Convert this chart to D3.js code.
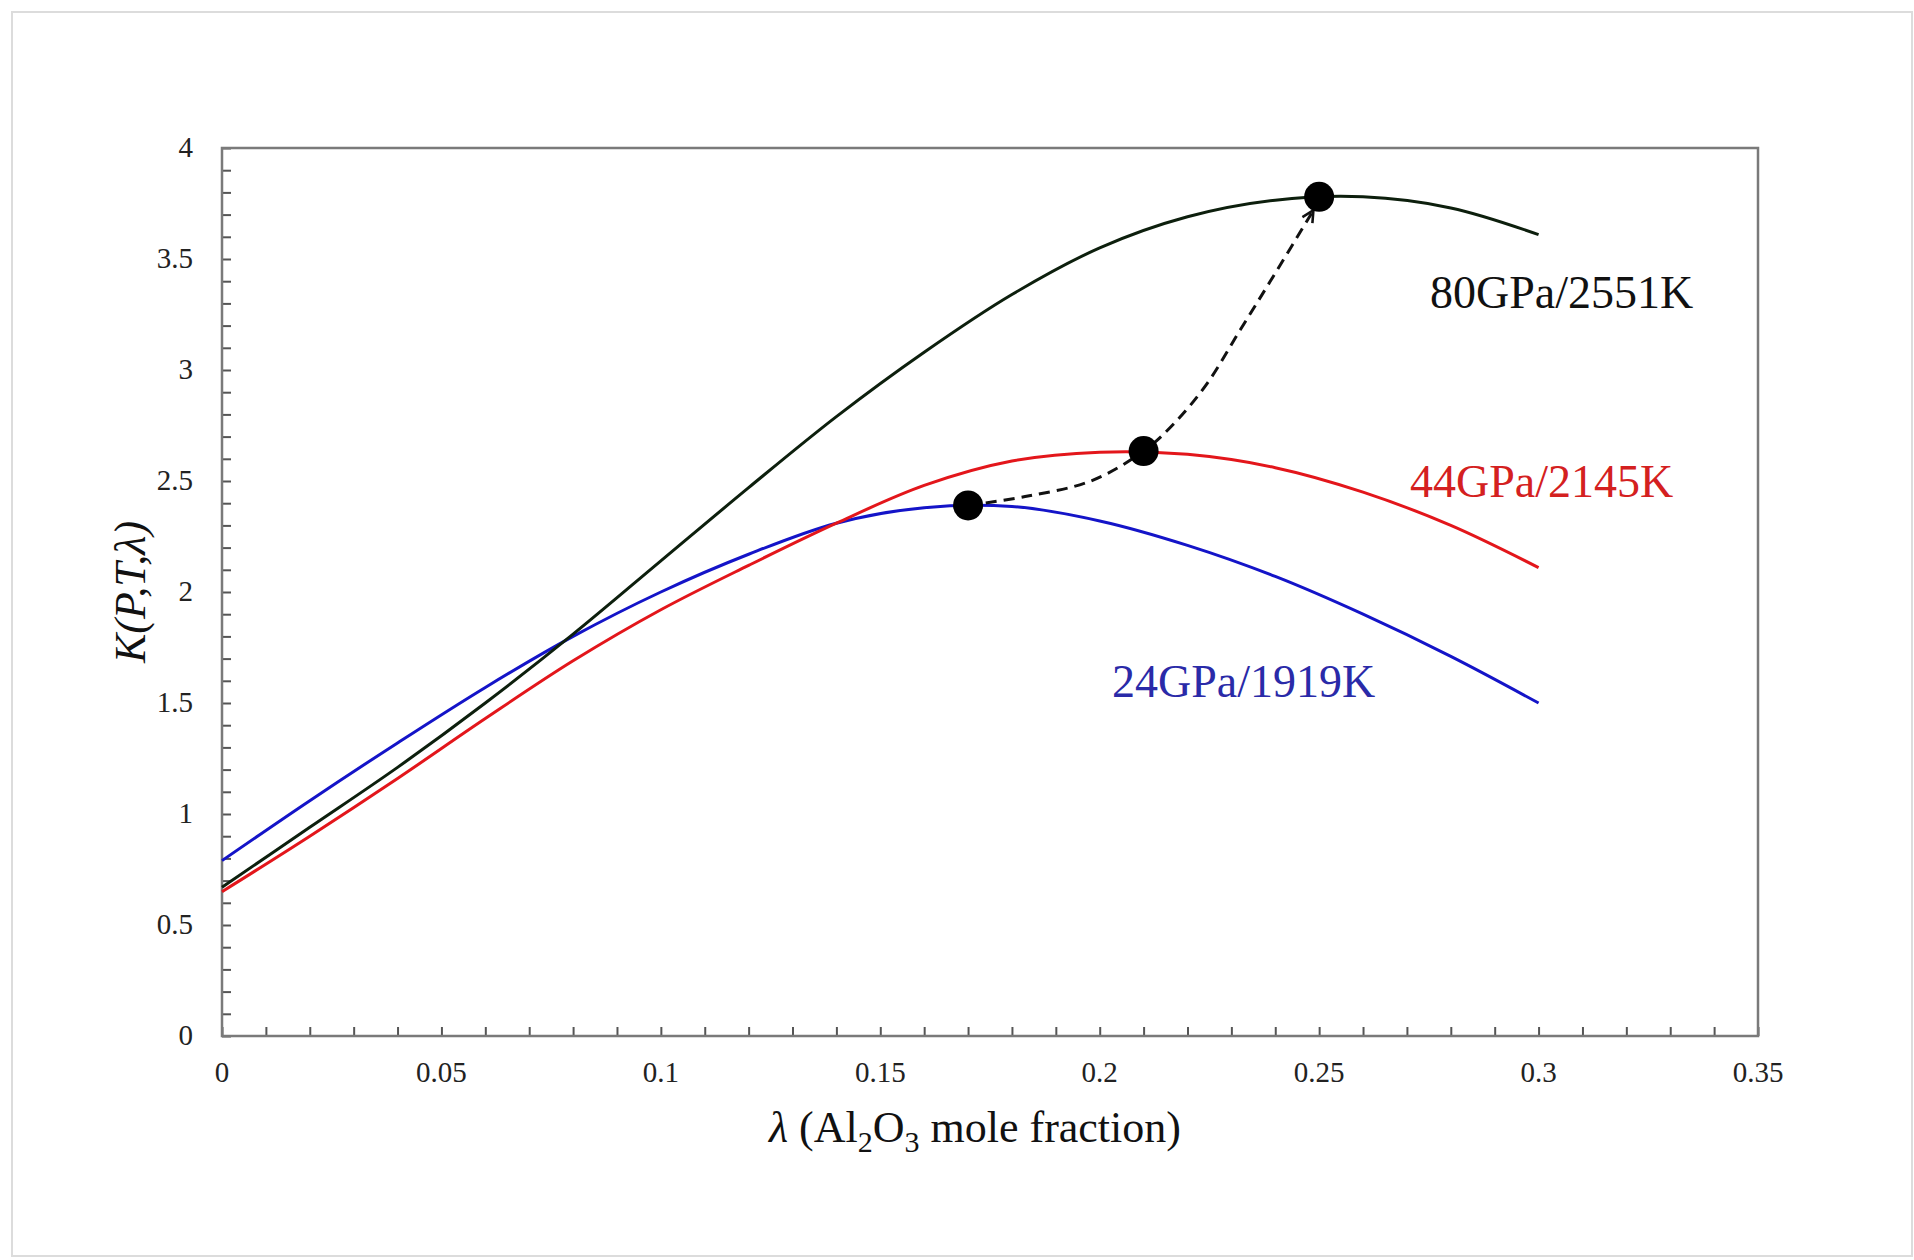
<!DOCTYPE html>
<html>
<head>
<meta charset="utf-8">
<script src="https://cdn.jsdelivr.net/npm/d3@7"></script>
<style>
  body { margin: 0; background: #fff; }
  text { font-family: "Liberation Serif", "DejaVu Serif", serif; }
</style>
</head>
<body>
<div id="chart"></div>
<script>
// lambda grid (Al2O3 mole fraction) and K values
var lambdaGrid = [0, 0.02, 0.04, 0.06, 0.08, 0.10, 0.12, 0.14, 0.16, 0.18, 0.20, 0.22, 0.24, 0.26, 0.28, 0.30];
var k24 = [0.79, 1.06, 1.32, 1.57, 1.80, 2.00, 2.17, 2.31, 2.38, 2.385, 2.32, 2.21, 2.07, 1.90, 1.71, 1.50];
var k44 = [0.65, 0.90, 1.16, 1.43, 1.69, 1.92, 2.12, 2.31, 2.48, 2.59, 2.63, 2.62, 2.56, 2.45, 2.30, 2.11];
var k80 = [0.67, 0.94, 1.21, 1.50, 1.81, 2.14, 2.47, 2.79, 3.08, 3.34, 3.55, 3.69, 3.765, 3.78, 3.73, 3.61];

var seriesNames = ["24GPa/1919K", "44GPa/2145K", "80GPa/2551K"];

// black dots on the curve maxima
var dotLambda = [0.17, 0.21, 0.25];
var dotK = [2.39, 2.635, 3.78];

// dashed arrow joining them
var pathLambda = [0.17, 0.183, 0.198, 0.21, 0.217, 0.2245, 0.232, 0.2395, 0.2487];
var pathK = [2.39, 2.43, 2.50, 2.635, 2.76, 2.94, 3.18, 3.42, 3.72];

var xTicks = [0, 0.05, 0.1, 0.15, 0.2, 0.25, 0.3, 0.35];
var yTicks = [0, 0.5, 1, 1.5, 2, 2.5, 3, 3.5, 4];

var W = 1914, H = 1260;
var margin = {top: 148, right: 156, bottom: 224, left: 222},
    width = W - margin.left - margin.right,
    height = H - margin.top - margin.bottom;

var svg = d3.select("#chart").append("svg")
    .attr("width", W)
    .attr("height", H);

svg.append("rect").attr("width", W).attr("height", H).attr("fill", "#fff");
// faint outer frame of the figure
svg.append("rect")
    .attr("x", 12).attr("y", 12)
    .attr("width", W - 14).attr("height", H - 16)
    .attr("fill", "none").attr("stroke", "#dcdcdc").attr("stroke-width", 2);

var g = svg.append("g")
    .attr("transform", "translate(" + margin.left + "," + margin.top + ")");

var x = d3.scaleLinear().domain([0, 0.35]).range([0, width]);
var y = d3.scaleLinear().domain([0, 4]).range([height, 0]);

// minor ticks every 0.01 / 0.1, drawn inside
var xAxis = d3.axisTop(x).ticks(35).tickSize(9).tickFormat("");
var yAxis = d3.axisRight(y).ticks(40).tickSize(9).tickFormat("");

g.append("g").attr("transform", "translate(0," + height + ")").call(xAxis)
    .call(function(s) { s.select(".domain").remove(); })
    .selectAll("line").attr("stroke", "#555").attr("stroke-width", 2);
g.append("g").call(yAxis)
    .call(function(s) { s.select(".domain").remove(); })
    .selectAll("line").attr("stroke", "#555").attr("stroke-width", 2);

g.append("rect")
    .attr("width", width).attr("height", height)
    .attr("fill", "none").attr("stroke", "#7a7a7a").attr("stroke-width", 2.5);

// tick labels
g.selectAll(".xl").data(xTicks).enter().append("text")
    .attr("x", function(d) { return x(d); })
    .attr("y", height + 46)
    .attr("text-anchor", "middle")
    .attr("font-size", 29)
    .attr("fill", "#222")
    .text(function(d) { return d; });

g.selectAll(".yl").data(yTicks).enter().append("text")
    .attr("x", -29)
    .attr("y", function(d) { return y(d); })
    .attr("dy", "0.3em")
    .attr("text-anchor", "end")
    .attr("font-size", 29)
    .attr("fill", "#222")
    .text(function(d) { return d; });

// axis titles
var xt = svg.append("text")
    .attr("x", 975).attr("y", 1142)
    .attr("text-anchor", "middle")
    .attr("font-size", 44)
    .attr("fill", "#111");
xt.append("tspan").attr("font-style", "italic").text("λ");
xt.append("tspan").text(" (Al");
xt.append("tspan").attr("font-size", 30).attr("dy", 10).text("2");
xt.append("tspan").attr("dy", -10).text("O");
xt.append("tspan").attr("font-size", 30).attr("dy", 10).text("3");
xt.append("tspan").attr("dy", -10).text(" mole fraction)");

svg.append("text")
    .attr("transform", "translate(145,592) rotate(-90)")
    .attr("text-anchor", "middle")
    .attr("font-size", 44)
    .attr("font-style", "italic")
    .attr("fill", "#111")
    .text("K(P,T,λ)");

// curves
var line = d3.line()
    .x(function(d) { return x(d[0]); })
    .y(function(d) { return y(d[1]); })
    .curve(d3.curveCatmullRom.alpha(0.5));

var curves = [
  {k: k24, color: "#1414c8"},
  {k: k44, color: "#e3161b"},
  {k: k80, color: "#0d1f0d"}
];

curves.forEach(function(c) {
  g.append("path")
      .datum(lambdaGrid.map(function(l, i) { return [l, c.k[i]]; }))
      .attr("d", line)
      .attr("fill", "none")
      .attr("stroke", c.color)
      .attr("stroke-width", 3);
});

// arrow head
svg.append("defs").append("marker")
    .attr("id", "arrow")
    .attr("viewBox", "0 0 12 12")
    .attr("refX", 11).attr("refY", 6)
    .attr("markerWidth", 14).attr("markerHeight", 14)
    .attr("markerUnits", "userSpaceOnUse")
    .attr("orient", "auto")
    .append("path")
    .attr("d", "M1,1 L11,6 L1,11")
    .attr("fill", "none")
    .attr("stroke", "#111")
    .attr("stroke-width", 2.2);

g.append("path")
    .datum(pathLambda.map(function(l, i) { return [l, pathK[i]]; }))
    .attr("d", line)
    .attr("fill", "none")
    .attr("stroke", "#111")
    .attr("stroke-width", 3)
    .attr("stroke-dasharray", "11,7")
    .attr("marker-end", "url(#arrow)");

g.selectAll(".dot").data(dotLambda).enter().append("circle")
    .attr("cx", function(d) { return x(d); })
    .attr("cy", function(d, i) { return y(dotK[i]); })
    .attr("r", 15)
    .attr("fill", "#000");

// series labels
var labelPos = [[1112, 697, "#2a2aa8"], [1410, 497, "#d42020"], [1430, 308, "#111"]];
seriesNames.forEach(function(n, i) {
  svg.append("text")
      .attr("x", labelPos[i][0]).attr("y", labelPos[i][1])
      .attr("font-size", 46)
      .attr("fill", labelPos[i][2])
      .text(n);
});
</script>
</body>
</html>
